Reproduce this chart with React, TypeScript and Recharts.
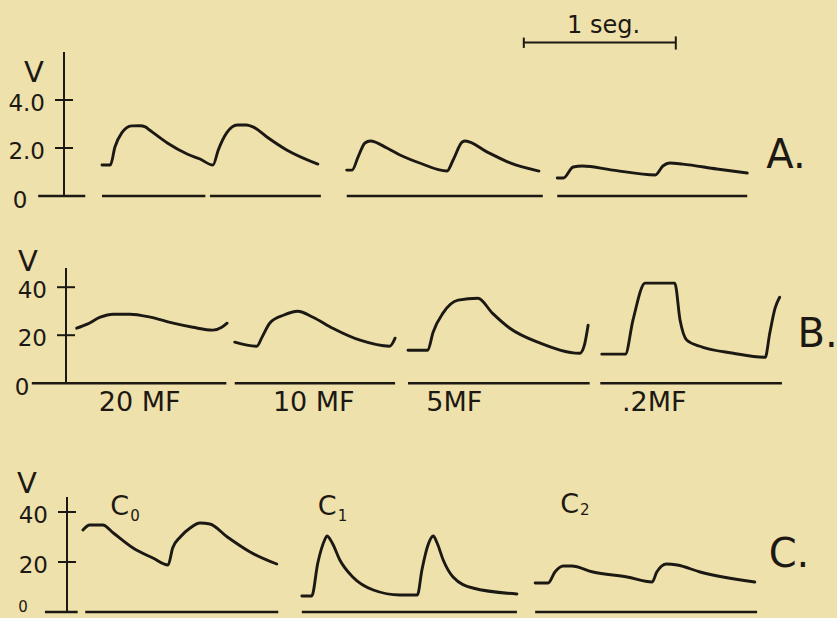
import React from "react";
import { LineChart, Line, XAxis, YAxis, ReferenceLine, ReferenceDot } from "recharts";

type Pt = { t: number; v: number };
const pts = (rows: number[][]): Pt[] => rows.map(([t, v]) => ({ t, v }));

const INK = "#1c1914";
const PAPER = "#efe1ab";
const FONT = "'DejaVu Sans', sans-serif";

// time in ms measured from the V axis (1 seg = 1000), potential in volts

// --- A ---
const A_TRACE_1 = pts([
  [250, 12.9], [305, 12.9], [335, 20.4], [380, 26.3], [445, 29.2], [500, 29.3], [535, 28.8],
  [565, 27.4], [680, 22.1], [810, 17.5], [895, 15.4], [980, 12.9], [1015, 19.2], [1070, 26.3],
  [1140, 29.6], [1200, 29.6], [1250, 28.6], [1335, 24.6], [1465, 19.2], [1670, 13.3],
]);
const A_TRACE_2 = pts([
  [1860, 10.8], [1895, 10.8], [1935, 16.3], [1980, 22.1], [2015, 22.9], [2125, 20], [2210, 17.1],
  [2340, 13.75], [2520, 10.4], [2560, 15], [2620, 22.5], [2640, 22.9], [2785, 18.3], [2935, 13.8],
  [3125, 10.4],
]);
const A_TRACE_3 = pts([
  [3245, 7.5], [3285, 7.5], [3350, 12.1], [3410, 12.5], [3610, 10.8], [3890, 8.75], [3940, 12.5],
  [3985, 13.75], [4070, 13.3], [4295, 11.25], [4495, 9.6],
]);
const A_BASELINES = [[-170, 140], [250, 930], [960, 1690], [1860, 3150], [3245, 4495]];
const A_TICK_LABELS = ["0", "2.0", "4.0"];

// --- B ---
const B_TRACE_20MF = pts([
  [70, 22.9], [140, 24.6], [225, 27.5], [310, 28.75], [420, 28.75], [555, 27.5], [705, 25],
  [835, 23.3], [965, 22.1], [1025, 23.3], [1060, 25],
]);
const B_TRACE_10MF = pts([
  [1110, 17.1], [1255, 15.4], [1290, 19.2], [1340, 25], [1430, 28.3], [1525, 30], [1625, 27.5],
  [1755, 22.9], [1935, 17.9], [2130, 15.4], [2165, 18.75],
]);
const B_TRACE_5MF = pts([
  [2250, 13.75], [2380, 13.75], [2415, 21.25], [2480, 29.2], [2580, 34.6], [2710, 35.4],
  [2805, 29.2], [2920, 22.9], [3120, 16.7], [3380, 12.5], [3410, 15.8], [3435, 24.2],
]);
const B_TRACE_02MF = pts([
  [3525, 12.1], [3680, 12.1], [3730, 26.25], [3810, 41.7], [4005, 41.7], [4040, 26.25],
  [4085, 17.9], [4170, 15.4], [4390, 12.5], [4600, 10.8], [4630, 20.8], [4665, 31.25], [4695, 35.8],
]);
const B_BASELINES = [[-225, 1055], [1110, 2165], [2250, 3445], [3515, 4710]];
const B_TICK_LABELS = ["0", "20", "40"];
const B_CAPACITIES = ["20 MF", "10 MF", "5MF", ".2MF"];
const B_CAPACITY_AT = [485, 1630, 2555, 3870];

// --- C ---
const C_TRACE_0 = pts([
  [105, 32.8], [150, 34.8], [235, 34.8], [305, 31.6], [435, 25.6], [565, 21.6], [665, 18.8],
  [695, 25.6], [745, 30], [810, 33.6], [875, 35.6], [940, 35.2], [1055, 30], [1205, 24], [1380, 19.2],
]);
const C_TRACE_1 = pts([
  [1545, 6.4], [1610, 6.4], [1650, 19.6], [1695, 28.8], [1710, 30.4], [1745, 27.6], [1795, 20.8],
  [1880, 14], [2015, 8.8], [2190, 6.8], [2305, 6.8], [2335, 16.8], [2375, 26.8], [2410, 30.4],
  [2435, 27.6], [2475, 20.8], [2540, 14], [2670, 9.6], [2960, 7.2],
]);
const C_TRACE_2 = pts([
  [3080, 11.6], [3165, 11.6], [3210, 16], [3265, 18.4], [3320, 18.4], [3460, 16], [3685, 14],
  [3850, 12], [3880, 16], [3945, 19.2], [4015, 18.8], [4165, 16], [4525, 12],
]);
const C_BASELINES = [[-145, 70], [120, 1390], [1545, 2960], [3080, 4540]];
const C_TICK_LABELS = ["0", "20", "40"];
const C_NAMES = ["0", "1", "2"];

const Y_TICKS = [0, 20, 40];

const yTick = (labels: string[], zeroDy = 4, zeroSize = 23) => (p: any) => {
  const val = p.payload.value;
  const text = labels[Y_TICKS.indexOf(val)];
  if (val === 0) {
    return (
      <text x={p.x - 44} y={p.y + zeroDy} textAnchor="middle" dominantBaseline="central"
        fontSize={zeroSize} fill={INK} fontFamily={FONT}>{text}</text>
    );
  }
  return (
    <g>
      <line x1={p.x - 9} x2={p.x + 9} y1={p.y} y2={p.y} stroke={INK} strokeWidth={2} />
      <text x={p.x - 19} y={p.y + 3} textAnchor="end" dominantBaseline="central"
        fontSize={23} fill={INK} fontFamily={FONT}>{text}</text>
    </g>
  );
};

const textMark = (content: React.ReactNode, size: number, anchor = "middle") => (p: any) => (
  <text x={p.cx} y={p.cy} textAnchor={anchor} fontSize={size} fill={INK} fontFamily={FONT}>
    {content}
  </text>
);

const capTick = (p: any) => (
  <text x={p.x} y={p.y + 28} textAnchor="middle" fontSize={27} fill={INK} fontFamily={FONT}>
    {B_CAPACITIES[B_CAPACITY_AT.indexOf(p.payload.value)]}
  </text>
);

type PanelProps = {
  top: number;
  height: number;
  axisX: number;
  marginTop: number;
  marginBottom: number;
  vMax: number;
  traces: Pt[][];
  baselines: number[][];
  tick: (p: any) => React.ReactElement;
  vAt: [number, number];
  xAxis?: React.ReactNode;
  children?: React.ReactNode;
};

function Panel(props: PanelProps) {
  const { top, height, axisX, marginTop, marginBottom, vMax, traces, baselines, tick, vAt } = props;
  return (
    <div style={{ position: "absolute", left: 0, top, width: 837, height }}>
      <LineChart
        width={837}
        height={height}
        margin={{ top: marginTop, right: 837 - axisX - 760, bottom: marginBottom, left: 0 }}
      >
        {props.xAxis ?? <XAxis type="number" dataKey="t" domain={[0, 5000]} hide allowDataOverflow />}
        <YAxis
          type="number"
          domain={[0, vMax]}
          ticks={Y_TICKS}
          interval={0}
          width={axisX}
          allowDataOverflow
          axisLine={{ stroke: INK, strokeWidth: 2 }}
          tickLine={false}
          tickSize={0}
          tickMargin={0}
          tick={tick}
          label={() => (
            <text x={vAt[0]} y={vAt[1]} textAnchor="middle" dominantBaseline="central"
              fontSize={29} fill={INK} fontFamily={FONT}>V</text>
          )}
        />
        {baselines.map(([a, b], i) => (
          <ReferenceLine
            key={`base-${i}`}
            segment={[{ x: a, y: 0 }, { x: b, y: 0 }]}
            stroke={INK}
            strokeWidth={2.5}
            ifOverflow="visible"
          />
        ))}
        {traces.map((trace, i) => (
          <Line
            key={`trace-${i}`}
            data={trace}
            dataKey="v"
            type="monotone"
            stroke={INK}
            strokeWidth={2.9}
            strokeLinecap="round"
            strokeLinejoin="round"
            dot={false}
            activeDot={false}
            isAnimationActive={false}
          />
        ))}
        {props.children}
      </LineChart>
    </div>
  );
}

export default function App() {
  return (
    <div style={{ position: "absolute", left: 0, top: 0, width: 837, height: 618, background: PAPER, overflow: "hidden" }}>
      <Panel
        top={0}
        height={218}
        axisX={64}
        marginTop={52}
        marginBottom={22}
        vMax={60}
        traces={[A_TRACE_1, A_TRACE_2, A_TRACE_3]}
        baselines={A_BASELINES}
        tick={yTick(A_TICK_LABELS)}
        vAt={[34, 72]}
      >
        {/* 1 seg. time mark */}
        <ReferenceLine segment={[{ x: 3025, y: 64 }, { x: 4025, y: 64 }]} stroke={INK} strokeWidth={2} ifOverflow="visible" />
        <ReferenceLine segment={[{ x: 3025, y: 61.7 }, { x: 3025, y: 66 }]} stroke={INK} strokeWidth={2} ifOverflow="visible" />
        <ReferenceLine segment={[{ x: 4025, y: 61 }, { x: 4025, y: 66.5 }]} stroke={INK} strokeWidth={2} ifOverflow="visible" />
        <ReferenceDot x={3550} y={68} r={0} ifOverflow="visible" shape={textMark("1 seg.", 24)} />
        <ReferenceDot x={4750} y={11.7} r={0} ifOverflow="visible" shape={textMark("A.", 40)} />
      </Panel>

      <Panel
        top={210}
        height={210}
        axisX={66}
        marginTop={58}
        marginBottom={6.8}
        vMax={48}
        traces={[B_TRACE_20MF, B_TRACE_10MF, B_TRACE_5MF, B_TRACE_02MF]}
        baselines={B_BASELINES}
        tick={yTick(B_TICK_LABELS)}
        vAt={[28, 51]}
        xAxis={
          <XAxis
            type="number"
            dataKey="t"
            domain={[0, 5000]}
            allowDataOverflow
            ticks={B_CAPACITY_AT}
            interval={0}
            height={30}
            axisLine={false}
            tickLine={false}
            tickSize={0}
            tickMargin={0}
            tick={capTick}
          />
        }
      >
        <ReferenceDot x={4945} y={15} r={0} ifOverflow="visible" shape={textMark("B.", 40)} />
      </Panel>

      <Panel
        top={420}
        height={198}
        axisX={67}
        marginTop={77}
        marginBottom={6}
        vMax={46}
        traces={[C_TRACE_0, C_TRACE_1, C_TRACE_2]}
        baselines={C_BASELINES}
        tick={yTick(C_TICK_LABELS, -5, 15)}
        vAt={[27, 63]}
      >
        <ReferenceDot x={285} y={38.8} r={0} ifOverflow="visible"
          shape={textMark(<>C<tspan fontSize={15} dx={1} dy={6}>{C_NAMES[0]}</tspan></>, 27, "start")} />
        <ReferenceDot x={1650} y={38.8} r={0} ifOverflow="visible"
          shape={textMark(<>C<tspan fontSize={15} dx={1} dy={6}>{C_NAMES[1]}</tspan></>, 27, "start")} />
        <ReferenceDot x={3245} y={39.6} r={0} ifOverflow="visible"
          shape={textMark(<>C<tspan fontSize={15} dx={1} dy={2}>{C_NAMES[2]}</tspan></>, 27, "start")} />
        <ReferenceDot x={4750} y={18} r={0} ifOverflow="visible" shape={textMark("C.", 40)} />
      </Panel>
    </div>
  );
}
